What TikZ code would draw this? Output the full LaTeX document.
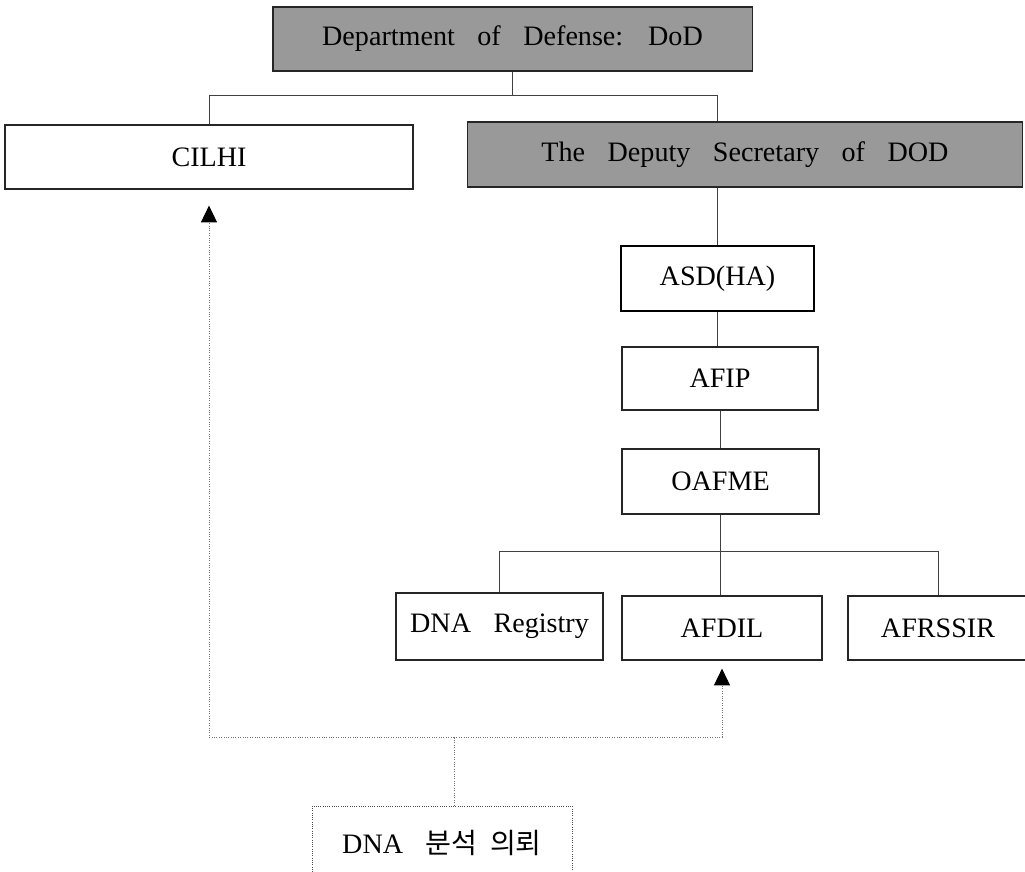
\documentclass[tikz,border=0pt]{standalone}
\usepackage{fontspec}
\setmainfont{Liberation Serif}[WordSpace=3.2]
\newfontfamily\krfont{Noto Sans CJK KR}[WordSpace=2]
\usetikzlibrary{arrows.meta}

\tikzset{
	org/.style={draw=black!85, line width=0.8pt, fill=white, inner sep=0pt,
		minimum height=1.6cm, font=\fontsize{20}{24}\selectfont},
	head/.style={org, fill=black!40},
	link/.style={draw=black!75, line width=0.7pt},
	reqline/.style={draw=black!55, line width=0.7pt, densely dotted},
	reqtip/.style={-{Triangle[width=0.4cm,length=0.42cm,color=black]}},
	reqbox/.style={org, draw=black!70, line width=0.6pt, densely dotted}
}

\begin{document}
\begin{tikzpicture}[x=0.025cm, y=-0.025cm]
	\useasboundingbox (0,0) rectangle (1025,871);

	%top level
	\node [head, minimum width=11.975cm] (dod) at (512.5,39) {Department of Defense: DoD};
	\node [org, minimum width=10.2cm] (cilhi) at (209,157) {CILHI};
	\node [head, minimum width=13.85cm, minimum height=1.625cm] (deputy) at (745,154.5) {The Deputy Secretary of DOD};

	%chain below the deputy
	\node [org, line width=1.6pt, draw=black, minimum width=4.825cm, minimum height=1.625cm] (asd) at (717.5,278.5) {ASD(HA)};
	\node [org, minimum width=4.9cm, minimum height=1.575cm] (afip) at (720,378.5) {AFIP};
	\node [org, minimum width=4.925cm, minimum height=1.625cm] (oafme) at (720.5,481.5) {OAFME};

	\node [org, minimum width=5.175cm, minimum height=1.675cm] (reg) at (499.5,626.5) {DNA Registry};
	\node [org, minimum width=5cm] (afdil) at (722,628) {AFDIL};
	\node [org, minimum width=4.5cm] (afrssir) at (938,628) {AFRSSIR};

	\node [reqbox, minimum width=6.5cm, minimum height=1.85cm] (req) at (442,843) {DNA {\krfont 분석 의뢰}};

	%solid links
	\draw [link] (dod.south) -- ++(0,24) coordinate (hub);
	\draw [link] (cilhi.north) |- (hub) -| (deputy.north -| asd.north);
	\draw [link] (deputy.south -| asd.north) -- (asd.north);
	\draw [link] (asd.south) -- (asd.south |- afip.north);
	\draw [link] (afip.south) -- (afip.south |- oafme.north);
	\draw [link] (oafme.south) -- (oafme.south |- afdil.north);
	\draw [link] (oafme.south) ++(0,37) coordinate (bar);
	\draw [link] (reg.north) |- (bar) -| (afrssir.north);

	%request
	\coordinate (split) at (454,737);
	\draw [reqline] (req.north -| split) -- (split);
	\draw [reqline, reqtip, shorten >=0.4cm] (split) -| (cilhi.south);
	\draw [reqline, reqtip, shorten >=0.2cm] (split) -| (afdil.south);

\end{tikzpicture}
\end{document}
